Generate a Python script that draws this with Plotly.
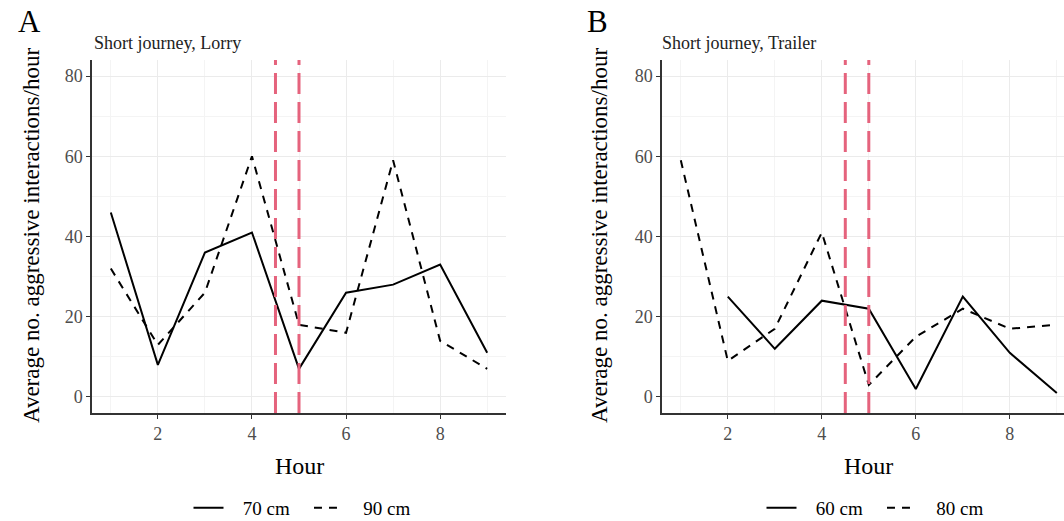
import plotly.graph_objects as go

# ---- data ----
hours = [1, 2, 3, 4, 5, 6, 7, 8, 9]
lorry_70 = [46, 8, 36, 41, 7, 26, 28, 33, 11]
lorry_90 = [32, 13, 26, 60, 18, 16, 59, 14, 7]
trailer_hours_60 = [2, 3, 4, 5, 6, 7, 8, 9]
trailer_60 = [25, 12, 24, 22, 2, 25, 11, 1]
trailer_80 = [59, 9, 17, 41, 3, 15, 22, 17, 18]
vlines = [4.5, 5.0]
x_ticks = [2, 4, 6, 8]
y_ticks = [0, 20, 40, 60, 80]

FONT = "Liberation Serif"
W, H = 1064, 521
NB = "\u00a0"

fig = go.Figure()

def add_series(x, y, name, dash, xa, ya, legend):
    fig.add_trace(go.Scatter(
        x=x, y=y, mode="lines", name=NB * 3 + name + NB * 3,
        line=dict(color="black", width=2, dash=dash),
        xaxis=xa, yaxis=ya, legend=legend, showlegend=True))

add_series(hours, lorry_70, "70 cm", "solid", "x", "y", "legend")
add_series(hours, lorry_90, "90 cm", "8px,7px", "x", "y", "legend")
add_series(trailer_hours_60, trailer_60, "60 cm", "solid", "x2", "y2", "legend2")
add_series(hours, trailer_80, "80 cm", "8px,7px", "x2", "y2", "legend2")

for xr, yr in [("x", "y"), ("x2", "y2")]:
    for v in vlines:
        fig.add_shape(type="line", xref=xr, yref=yr + " domain", x0=v, x1=v, y0=0, y1=1,
                      line=dict(color="#E5637D", width=3, dash="21px,8px"), layer="above")

def px_x(p):
    return p / W

def px_y(p):
    return (H - p) / H

ydom = [px_y(413), px_y(60)]
axis_common = dict(
    showline=True, linecolor="#333333", linewidth=1.5,
    ticks="outside", ticklen=4, tickcolor="#333333", tickwidth=1,
    showgrid=True, gridcolor="#EBEBEB", gridwidth=1,
    zeroline=False, automargin=False,
    tickfont=dict(family=FONT, size=18, color="#4D4D4D"),
)

fig.update_layout(
    width=W, height=H,
    margin=dict(l=0, r=0, t=0, b=0, autoexpand=False),
    paper_bgcolor="white", plot_bgcolor="white",
    font=dict(family=FONT, color="black"),
    xaxis=dict(domain=[px_x(92), px_x(506)], range=[0.6, 9.4], tickvals=x_ticks,
               minor=dict(dtick=1, tick0=1, showgrid=True, gridcolor="#F4F4F4", gridwidth=0.8),
               anchor="y", **axis_common),
    yaxis=dict(domain=ydom, range=[-4, 84], tickvals=y_ticks,
               minor=dict(dtick=10, tick0=0, showgrid=True, gridcolor="#F4F4F4", gridwidth=0.8),
               anchor="x", **axis_common),
    xaxis2=dict(domain=[px_x(662), 1.0], range=[0.6, 9.153], tickvals=x_ticks,
                minor=dict(dtick=1, tick0=1, showgrid=True, gridcolor="#F4F4F4", gridwidth=0.8),
                anchor="y2", **axis_common),
    yaxis2=dict(domain=ydom, range=[-4, 84], tickvals=y_ticks,
                minor=dict(dtick=10, tick0=0, showgrid=True, gridcolor="#F4F4F4", gridwidth=0.8),
                anchor="x2", **axis_common),
    legend=dict(orientation="h", x=px_x(309), y=px_y(508), xanchor="center", yanchor="middle",
                font=dict(family=FONT, size=19, color="black"), bgcolor="rgba(0,0,0,0)"),
    legend2=dict(orientation="h", x=px_x(882), y=px_y(508), xanchor="center", yanchor="middle",
                 font=dict(family=FONT, size=19, color="black"), bgcolor="rgba(0,0,0,0)"),
)

ann = []
def text(x, y, s, size, xanchor="center", yanchor="middle", angle=0, color="black"):
    ann.append(dict(x=px_x(x), y=px_y(y), xref="paper", yref="paper", text=s, showarrow=False,
                    xanchor=xanchor, yanchor=yanchor, textangle=angle,
                    font=dict(family=FONT, size=size, color=color)))

text(29, 21, "A", 31)
text(597, 21, "B", 31)
text(92, 43, "Short journey, Lorry", 18, xanchor="left", color="#222222")
text(660, 43, "Short journey, Trailer", 18, xanchor="left", color="#222222")
text(31, 236, "Average no. aggressive interactions/hour", 23, angle=-90)
text(599, 236, "Average no. aggressive interactions/hour", 23, angle=-90)
text(299, 466, "Hour", 24)
text(868, 466, "Hour", 24)
fig.update_layout(annotations=ann)

fig.write_html("out.html")
